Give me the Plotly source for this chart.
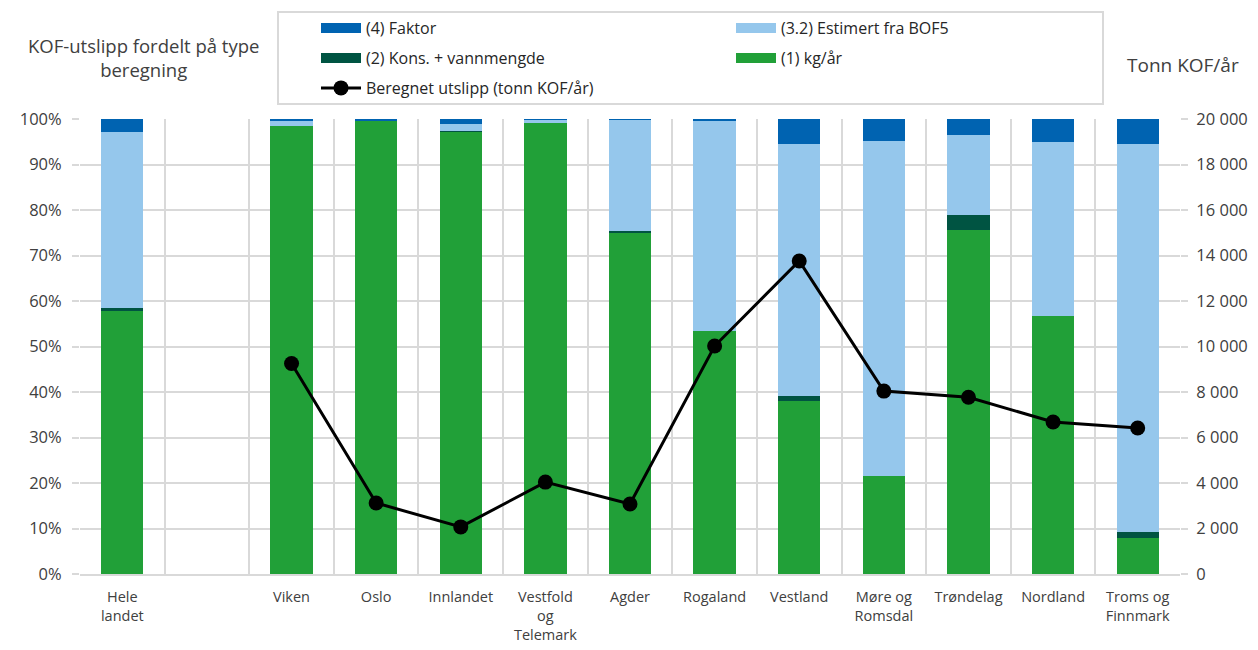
import plotly.graph_objects as go

categories = ["Hele<br>landet", " ", "Viken", "Oslo", "Innlandet", "Vestfold<br>og<br>Telemark",
              "Agder", "Rogaland", "Vestland", "Møre og<br>Romsdal", "Trøndelag", "Nordland",
              "Troms og<br>Finnmark"]

# percentage shares (stacked, bottom to top)
kg_aar = [57.9, None, 98.4, 99.7, 97.3, 99.2, 75.1, 53.4, 38.0, 21.5, 75.7, 56.7, 8.0]
kons_vann = [0.6, None, 0.0, 0.0, 0.1, 0.0, 0.3, 0.0, 1.1, 0.0, 3.3, 0.0, 1.2]
estimert_bof5 = [38.6, None, 1.2, 0.0, 1.4, 0.6, 24.4, 46.2, 55.3, 73.7, 17.5, 38.2, 85.4]
faktor = [2.9, None, 0.4, 0.3, 1.2, 0.2, 0.2, 0.4, 5.6, 4.8, 3.5, 5.1, 5.4]

# tonn KOF/år
beregnet = [None, None, 9250, 3120, 2070, 4040, 3080, 10020, 13760, 8040, 7770, 6680, 6420]

C_FAKTOR = "#0063B1"
C_EST = "#95C7EC"
C_KONS = "#005442"
C_KG = "#21A038"
TXT = "#404040"
GRID = "#D9D9D9"
FONT = "Open Sans"

W, H = 1258, 650
ML, MR, MT, MB = 80, 78, 119, 76
pw = W - ML - MR
ph = H - MT - MB


def px_x(xp):
    return (xp - ML) / pw


def px_y(yp):
    return (H - MB - yp) / ph


fig = go.Figure()
bar_specs = [
    ("(1) kg/år", kg_aar, C_KG, "legend2"),
    ("(2) Kons. + vannmengde", kons_vann, C_KONS, "legend2"),
    ("(3.2) Estimert fra BOF5", estimert_bof5, C_EST, "legend"),
    ("(4) Faktor", faktor, C_FAKTOR, "legend"),
]
for name, vals, col, _ in bar_specs:
    fig.add_trace(go.Bar(x=categories, y=vals, name=name, marker_color=col,
                         marker_line_width=0, showlegend=False))

fig.add_trace(go.Scatter(x=categories, y=beregnet, name="Beregnet utslipp (tonn KOF/år)",
                         mode="lines+markers", line=dict(color="black", width=3),
                         marker=dict(color="black", size=15), yaxis="y2", legend="legend3",
                         connectgaps=False))

# legend-only swatches (wide rectangles like the original legend)
legend_order = [bar_specs[3], bar_specs[2], bar_specs[1], bar_specs[0]]
for rank, (name, vals, col, lg) in enumerate(legend_order):
    fig.add_trace(go.Scatter(x=[None], y=[None], name=name, mode="lines",
                             line=dict(color=col, width=10), legend=lg, legendrank=rank + 1,
                             hoverinfo="skip"))


def leg(top_px):
    return dict(orientation="h", traceorder="normal",
                x=px_x(316), y=px_y(top_px), xanchor="left", yanchor="top",
                xref="paper", yref="paper",
                entrywidth=360, entrywidthmode="pixels",
                borderwidth=0, bgcolor="rgba(0,0,0,0)",
                font=dict(family=FONT, size=16, color="#262626"),
                itemwidth=40)


fig.update_layout(
    width=W, height=H,
    barmode="stack", bargap=0.5,
    plot_bgcolor="white", paper_bgcolor="white",
    margin=dict(l=ML, r=MR, t=MT, b=MB, autoexpand=False),
    font=dict(family=FONT, size=16, color=TXT),
    separators=", ",
    showlegend=True,
    legend=leg(11),
    legend2=leg(41),
    legend3=leg(71),
    xaxis=dict(type="category", tickson="boundaries", showgrid=True, gridcolor=GRID, gridwidth=2,
               showline=True, linecolor=GRID, linewidth=2, ticks="", ticklabelstandoff=9,
               tickfont=dict(size=14.5, color=TXT),
               range=[-0.5, len(categories) - 0.5]),
    yaxis=dict(range=[0, 100], dtick=10, ticksuffix="%", showgrid=True, gridcolor=GRID, gridwidth=2,
               zeroline=False, ticks="outside", ticklen=7, tickcolor=GRID, tickwidth=2,
               ticklabelstandoff=7, tickfont=dict(size=16.5, color=TXT)),
    yaxis2=dict(range=[0, 20000], dtick=2000, tickformat=",d", overlaying="y", side="right",
                showgrid=False, zeroline=False, ticks="outside", ticklen=7, tickcolor=GRID, tickwidth=2,
                ticklabelstandoff=5, tickfont=dict(size=16.5, color=TXT)),
    annotations=[
        dict(text="KOF-utslipp fordelt på type<br>beregning", x=px_x(143), y=px_y(57),
             xref="paper", yref="paper", xanchor="center", yanchor="middle",
             showarrow=False, font=dict(size=18.5, color=TXT), align="center"),
        dict(text="Tonn KOF/år", x=px_x(1183), y=px_y(65), xref="paper", yref="paper",
             xanchor="center", yanchor="middle",
             showarrow=False, font=dict(size=19, color=TXT)),
    ],
    shapes=[
        dict(type="rect", xref="paper", yref="paper", x0=px_x(278), x1=px_x(1103),
             y0=px_y(104), y1=px_y(12), line=dict(color=GRID, width=2), fillcolor="rgba(0,0,0,0)",
             layer="below"),
    ],
)

fig.write_html("out.html", config={"displayModeBar": False},
               post_script="document.body.style.margin='0px';")
